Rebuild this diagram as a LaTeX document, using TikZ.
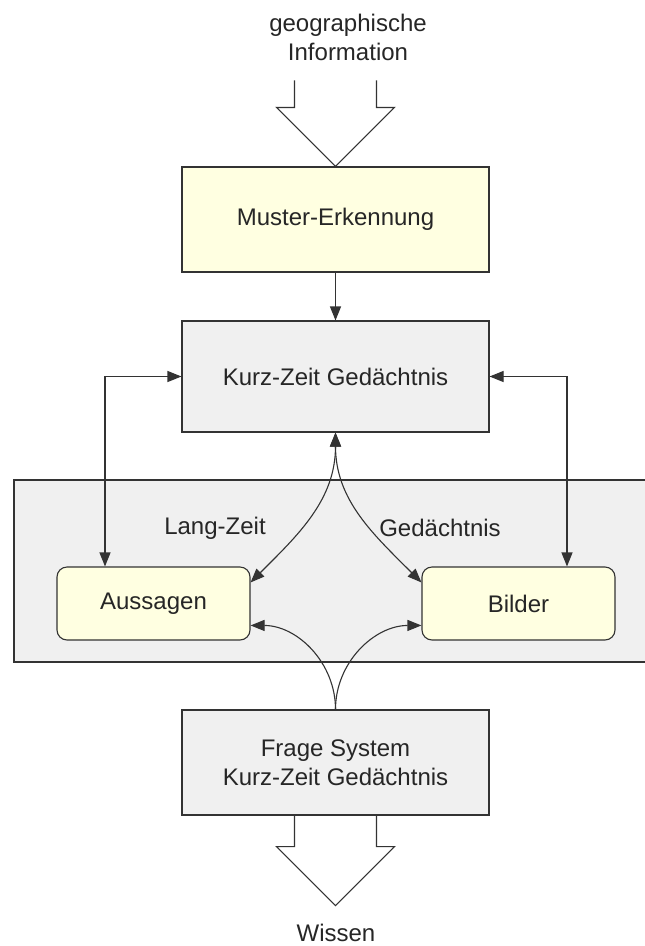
\documentclass[tikz,border=0pt]{standalone}
\usepackage{fontspec}
\setmainfont{Liberation Sans}
\usetikzlibrary{positioning, calc, arrows.meta}

\definecolor{boxyellow}{HTML}{FFFFE1}
\definecolor{boxgray}{HTML}{F0F0F0}
\definecolor{linegray}{HTML}{333333}

\newcommand{\bigtxt}{\fontsize{24}{29}\selectfont}

%% open (hollow) arrow: #1 = tail centre, #2 = tip
\newcommand{\openarrow}[2]{%
  \draw[hollow] ([xshift=-41pt]#1) -- ([shift={(-41,59)}]#2)
    -- ([shift={(-59,59)}]#2) -- (#2) -- ([shift={(59,59)}]#2)
    -- ([shift={(41,59)}]#2) -- ([xshift=41pt]#1);}

\begin{document}
\begin{tikzpicture}[x=1pt, y=1pt,
    block/.style = {rectangle, draw=linegray, line width=1.1pt, fill=boxgray,
                    minimum width=307pt, minimum height=105pt, inner sep=0pt,
                    font=\bigtxt, text=black!85, align=center},
    roundblock/.style = {rectangle, draw=linegray, line width=1.1pt,
                    fill=boxyellow, rounded corners=10pt,
                    minimum width=193pt, minimum height=73pt, inner sep=0pt,
                    font=\bigtxt, text=black!85, align=center},
    region/.style = {rectangle, draw=linegray, line width=1.1pt, fill=boxgray,
                    minimum width=633pt, minimum height=182pt, inner sep=0pt},
    lbl/.style   = {font=\bigtxt, text=black!85, align=center, inner sep=0pt},
    arr/.style   = {line width=1.1pt, draw=linegray,
                    -{Triangle[length=14pt, width=11pt]}},
    dblarr/.style = {line width=1.1pt, draw=linegray,
                    {Triangle[length=14pt, width=11pt]}-{Triangle[length=14pt, width=11pt]}},
    hollow/.style = {line width=1.1pt, draw=linegray, line join=miter},
]

\useasboundingbox[fill=white] (0,0) rectangle (645,-946);

%% ==================================================================
%% NODES
%% ==================================================================

\node[region] (ltm) at (330.5,-571) {};
\node[lbl] (ltmleft)  at (215,-528) {Lang-Zeit};
\node[lbl] (ltmright) at (440,-528) {Gedächtnis};

\node[lbl] (geo) at (348,-37.5) {geographische\\Information};

\node[block, fill=boxyellow] (muster) at (335.5,-219.5) {Muster-Erkennung};
\node[block, minimum height=111pt] (kurz) at (335.5,-376.5)
    {Kurz-Zeit Gedächtnis};

\node[roundblock] (auss) at (153.5,-603.5) {Aussagen};
\node[roundblock] (bild) at (518.5,-603.5) {Bilder};

\node[block] (frage) at (335.5,-762.5) {Frage System\\Kurz-Zeit Gedächtnis};

\node[lbl] (wissen) at (336,-933) {Wissen};

%% ==================================================================
%% CONNECTIONS
%% ==================================================================

%% input / output
\coordinate (intail) at ($(muster.north)+(0,86)$);
\openarrow{intail}{muster.north}
\coordinate (outtip) at ($(frage.south)+(0,-90)$);
\openarrow{frage.south}{outtip}

\draw[arr] (muster.south) -- (kurz.north);

%% side links
\draw[dblarr] ([xshift=-48.5pt]auss.north) |- (kurz.west);
\draw[dblarr] ([xshift=48.5pt]bild.north) |- (kurz.east);

%% Kurz-Zeit <-> Lang-Zeit
\draw[dblarr] (kurz.south) to[out=-90, in=45] ([yshift=-16pt]auss.north east);
\draw[dblarr] (kurz.south) to[out=-90, in=135] ([yshift=-16pt]bild.north west);

%% Frage System -> Lang-Zeit
\draw[arr] (frage.north) to[out=90, in=0] ([yshift=-59pt]auss.north east);
\draw[arr] (frage.north) to[out=90, in=180] ([yshift=-59pt]bild.north west);

\end{tikzpicture}
\end{document}
